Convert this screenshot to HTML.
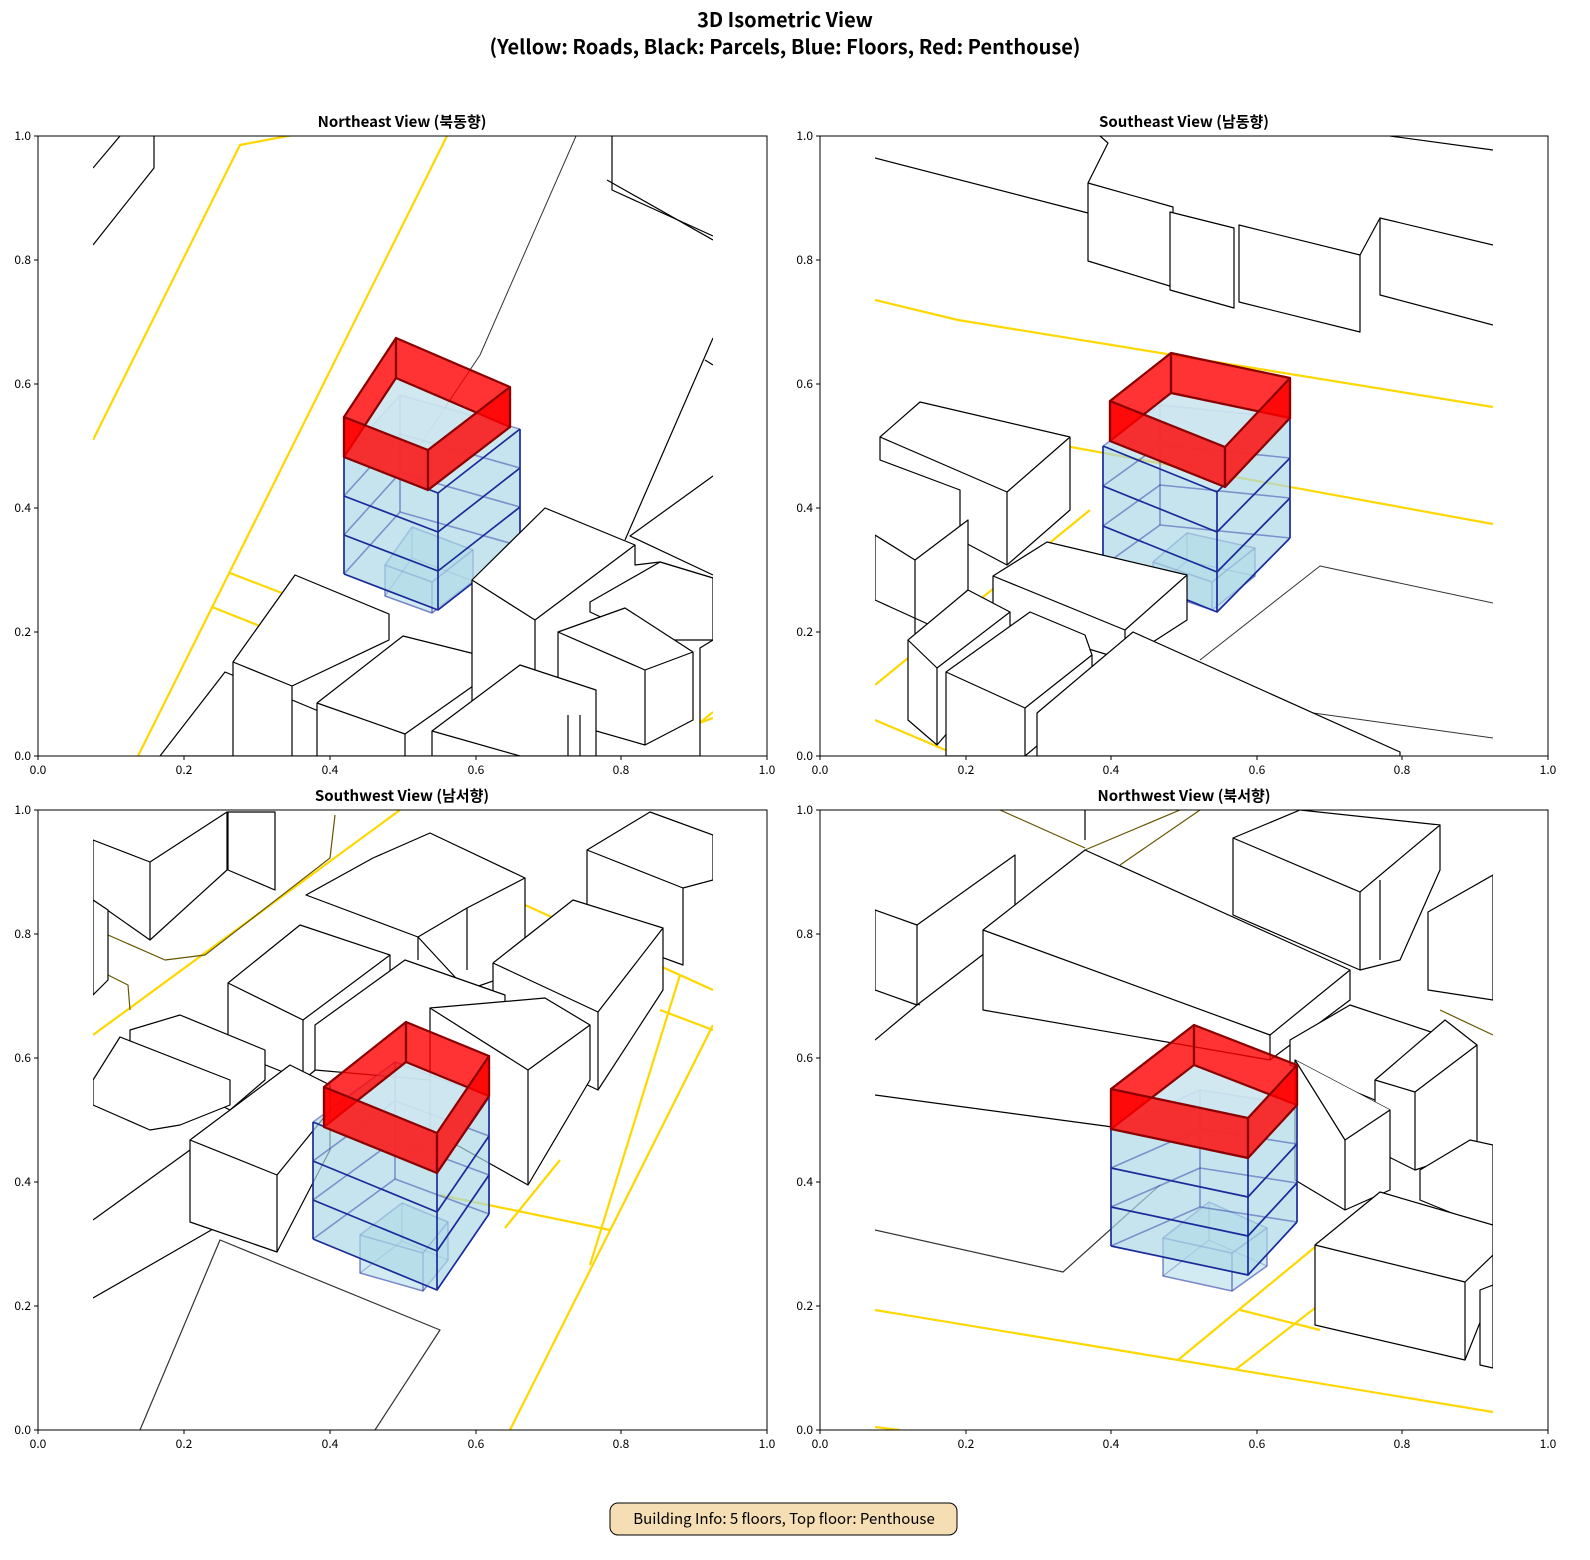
<!DOCTYPE html>
<html><head><meta charset="utf-8"><style>
html,body{margin:0;padding:0;background:#fff;overflow:hidden;width:1590px;height:1560px;}
svg{display:block;}
svg text{font-family:"Noto Sans CJK KR","Liberation Sans",sans-serif;}
</style></head><body>
<svg id="S" width="1590" height="1560" viewBox="0 0 1590 1560" xmlns="http://www.w3.org/2000/svg">
<defs>
<clipPath id="c1"><rect x="93" y="136" width="620" height="620"/></clipPath>
<clipPath id="c2"><rect x="875" y="136" width="618" height="620"/></clipPath>
<clipPath id="c3"><rect x="93" y="810" width="620" height="620"/></clipPath>
<clipPath id="c4"><rect x="875" y="810" width="618" height="620"/></clipPath>
</defs>
<text x="785" y="27" text-anchor="middle" font-size="20" font-weight="bold">3D Isometric View</text>
<text x="785" y="54" text-anchor="middle" font-size="20" font-weight="bold">(Yellow: Roads, Black: Parcels, Blue: Floors, Red: Penthouse)</text>

<text x="402" y="127" text-anchor="middle" font-size="15" font-weight="bold">Northeast View (북동향)</text>
<text x="1184" y="127" text-anchor="middle" font-size="15" font-weight="bold">Southeast View (남동향)</text>
<text x="402" y="801" text-anchor="middle" font-size="15" font-weight="bold">Southwest View (남서향)</text>
<text x="1184" y="801" text-anchor="middle" font-size="15" font-weight="bold">Northwest View (북서향)</text>

<!-- ===== Panel 1 ===== -->
<g clip-path="url(#c1)" fill="none" stroke-linejoin="round">
 <g stroke="#FFD700" stroke-width="2.2">
  <polyline points="93,440 240,145 330,128"/>
  <line x1="138" y1="756" x2="447" y2="136"/>
  <polyline points="230,573 300,600"/>
  <polyline points="212,607 270,630"/>
  <polyline points="640,745 713,718"/>
  <polyline points="660,756 713,712"/>
 </g>
 <g stroke="#000" stroke-width="1.2">
  <line x1="93" y1="168" x2="120" y2="136"/>
  <polyline points="93,245 154,168 154,136"/>
  <polyline points="612,136 612,190 713,236"/>
  <polyline points="607,180 713,240"/>
  <polyline points="713,338 625,540"/>
  <polyline points="713,365 705,360"/>
  <polyline points="713,476 630,536 713,575"/>
 </g>
 <polyline points="576,136 480,355 420,445" stroke="#333" stroke-width="1"/>
 <g id="b1"></g>
 <g stroke="#000" stroke-width="1.2" fill="#fff">
  <polygon points="160,756 225,672 328,715 328,756"/>
  <polygon points="233,662 295,575 389,614 389,640 292,686 292,756 233,756"/>
  <line x1="233" y1="662" x2="292" y2="686"/>
  <polygon points="317,703 403,636 507,662 507,756 317,756"/>
  <polyline points="317,703 405,734 507,662"/><line x1="405" y1="734" x2="405" y2="756"/>
  <polygon points="472,580 545,508 635,545 635,565 660,562 713,578 713,640 700,648 700,756 472,756"/>
  <polyline points="472,580 535,620 635,545"/><line x1="535" y1="620" x2="535" y2="756"/>
  <polygon points="590,602 660,562 713,578 713,640 650,640 590,612"/>
  <polygon points="558,632 625,608 693,652 693,720 645,745 558,720"/>
  <polyline points="558,632 645,670 693,652"/><line x1="645" y1="670" x2="645" y2="745"/>
  <polygon points="432,731 520,665 596,690 596,756 432,756"/>
  <polyline points="432,731 520,756"/><line x1="580" y1="715" x2="580" y2="756"/><line x1="568" y1="715" x2="568" y2="756"/>
 </g>
</g>

<!-- ===== Panel 2 ===== -->
<g clip-path="url(#c2)" fill="none" stroke-linejoin="round">
 <g stroke="#000" stroke-width="1.2">
  <line x1="875" y1="158" x2="1088" y2="213"/>
  <polyline points="1088,183 1108,143 1100,136"/>
  <line x1="1390" y1="136" x2="1493" y2="150"/>
  <polygon points="1088,183 1173,207 1173,287 1088,261" fill="#fff"/>
  <polygon points="1170,212 1234,228 1234,308 1170,290" fill="#fff"/>
  <polygon points="1239,225 1360,255 1360,332 1239,302" fill="#fff"/>
  <polyline points="1360,255 1380,218 1493,245"/>
  <polyline points="1380,218 1380,295 1493,325"/>
 </g>
 <g stroke="#FFD700" stroke-width="2.2">
  <polyline points="875,300 958,320 1493,407"/>
  <line x1="1060" y1="445" x2="1493" y2="524"/>
  <line x1="875" y1="720" x2="950" y2="752"/>
  <line x1="875" y1="685" x2="1090" y2="510"/>
 </g>
 <g stroke="#333" stroke-width="1">
  <polyline points="1200,660 1320,566 1493,603"/>
  <line x1="1220" y1="700" x2="1493" y2="738"/>
 </g>
 <g stroke="#000" stroke-width="1.2" fill="#fff">
  <polygon points="880,437 920,402 1070,437 1070,510 1007,565 960,540 960,490 880,460"/>
  <polyline points="880,437 1007,492 1070,437"/><line x1="1007" y1="492" x2="1007" y2="565"/>
  <polygon points="875,535 915,560 968,520 968,590 930,625 875,600"/>
  <polyline points="915,560 915,640"/>
 </g>
 <g id="b2"></g>
 <g stroke="#000" stroke-width="1.2" fill="#fff">
  <polygon points="993,576 1047,542 1187,575 1187,620 1125,660 993,620"/>
  <polyline points="993,576 1125,630 1187,575"/><line x1="1125" y1="630" x2="1125" y2="660"/>
  <polygon points="908,640 968,590 1010,612 1010,660 937,745 908,720"/>
  <polyline points="908,640 937,668 1010,612"/><line x1="937" y1="668" x2="937" y2="745"/>
  <polygon points="946,672 1030,612 1085,635 1092,655 1092,700 1025,756 946,756"/>
  <polyline points="946,672 1025,708 1092,655"/><line x1="1025" y1="708" x2="1025" y2="756"/>
  <polygon points="1037,713 1133,632 1400,752 1400,756 1037,756"/>
 </g>
</g>

<!-- ===== Panel 3 ===== -->
<g clip-path="url(#c3)" fill="none" stroke-linejoin="round">
 <g stroke="#FFD700" stroke-width="2.2">
  <line x1="93" y1="1035" x2="400" y2="810"/>
  <line x1="510" y1="1430" x2="713" y2="1025"/>
  <line x1="660" y1="1010" x2="713" y2="1030"/>
  <line x1="505" y1="1228" x2="560" y2="1160"/>
  <line x1="590" y1="1265" x2="680" y2="975"/>
  <line x1="440" y1="1195" x2="610" y2="1230"/>
  <line x1="525" y1="905" x2="713" y2="990"/>
 </g>
 <g stroke="#665500" stroke-width="1.2">
  <polyline points="108,935 165,960 205,955 330,858 335,815"/>
  <polyline points="108,975 128,985 130,1010"/>
 </g>
 <g stroke="#000" stroke-width="1.2">
  <polyline points="140,1430 220,1240 440,1330 375,1430" stroke="#333"/>
  <line x1="93" y1="1220" x2="190" y2="1150"/>
  <line x1="93" y1="1298" x2="220" y2="1225"/>
 </g>
 <g stroke="#000" stroke-width="1.2" fill="#fff">
  <polygon points="93,840 150,862 227,812 227,870 150,940 93,900"/>
  <line x1="150" y1="862" x2="150" y2="940"/>
  <polygon points="228,812 275,812 275,890 228,870"/>
  <polygon points="93,900 108,910 108,980 93,995"/>
  <polygon points="306,895 373,858 430,833 525,878 525,970 467,990 418,937 306,895"/>
  <polyline points="418,937 467,908 525,878"/><line x1="467" y1="908" x2="467" y2="970"/><line x1="418" y1="937" x2="418" y2="960"/>
  <polygon points="587,850 650,812 713,835 713,880 683,888 683,965 587,930"/>
  <line x1="683" y1="888" x2="587" y2="850"/>
  <polygon points="228,983 300,925 390,955 390,1010 303,1080 228,1050"/>
  <polyline points="228,983 303,1020 390,955"/><line x1="303" y1="1020" x2="303" y2="1080"/>
  <polygon points="493,963 573,900 663,928 663,990 598,1090 493,1040"/>
  <polyline points="493,963 598,1012 663,928"/><line x1="598" y1="1012" x2="598" y2="1090"/>
  <polygon points="315,1025 405,960 505,995 505,1040 430,1080 315,1070"/>
  <polygon points="130,1030 180,1015 265,1050 265,1080 230,1110 130,1060"/>
  <polygon points="93,1080 120,1037 230,1080 230,1105 180,1125 150,1130 93,1105"/>
  <polygon points="430,1008 545,998 590,1025 590,1080 528,1185 430,1130"/>
  <polyline points="430,1008 528,1070 590,1025"/><line x1="528" y1="1070" x2="528" y2="1185"/>
  <polygon points="190,1140 290,1065 330,1085 330,1150 277,1252 190,1222"/>
  <polyline points="190,1140 277,1175 330,1110"/><line x1="277" y1="1175" x2="277" y2="1252"/>
 </g>
 <g id="b3"></g>
</g>

<!-- ===== Panel 4 ===== -->
<g clip-path="url(#c4)" fill="none" stroke-linejoin="round">
 <g stroke="#FFD700" stroke-width="2.2">
  <line x1="875" y1="1310" x2="1493" y2="1412"/>
  <line x1="1178" y1="1360" x2="1360" y2="1210"/>
  <line x1="1235" y1="1370" x2="1390" y2="1250"/>
  <line x1="1240" y1="1310" x2="1320" y2="1330"/>
  <line x1="875" y1="1427" x2="900" y2="1430"/>
 </g>
 <g stroke="#665500" stroke-width="1.2">
  <polyline points="1000,810 1085,848"/>
  <polyline points="1085,850 1180,810"/>
  <polyline points="1120,865 1200,810"/>
  <polyline points="1440,1010 1493,1035"/>
 </g>
 <g stroke="#000" stroke-width="1.2">
  <line x1="875" y1="1095" x2="1120" y2="1128"/>
  <polyline points="875,1230 1063,1272 1160,1185" stroke="#333"/>
  <line x1="875" y1="988" x2="920" y2="1005"/>
  <line x1="875" y1="1040" x2="983" y2="950"/>
  <line x1="1085" y1="810" x2="1085" y2="840"/>
 </g>
 <g stroke="#000" stroke-width="1.2" fill="#fff">
  <polygon points="875,910 917,925 1015,855 1015,930 917,1005 875,990"/>
  <line x1="917" y1="925" x2="917" y2="1005"/>
  <polygon points="1233,838 1300,810 1440,825 1440,870 1400,960 1360,970 1233,915"/>
  <polyline points="1233,838 1360,892 1440,825"/><line x1="1360" y1="892" x2="1360" y2="970"/><line x1="1380" y1="880" x2="1380" y2="960"/>
  <polygon points="983,930 1085,850 1350,970 1350,1000 1270,1060 983,1010"/>
  <polyline points="983,930 1270,1035 1350,970"/><line x1="1270" y1="1035" x2="1270" y2="1060"/>
  <polygon points="1428,912 1493,875 1493,1000 1428,990"/>
  <polygon points="1290,1040 1350,1005 1440,1035 1440,1085 1375,1100 1290,1065"/>
  <polygon points="1375,1080 1445,1020 1477,1045 1477,1150 1415,1170 1375,1150"/>
  <polyline points="1375,1080 1415,1092 1477,1045"/><line x1="1415" y1="1092" x2="1415" y2="1170"/>
  <polygon points="1295,1060 1390,1110 1390,1190 1345,1210 1295,1180"/>
  <polyline points="1295,1060 1345,1140 1390,1110"/><line x1="1345" y1="1140" x2="1345" y2="1210"/>
  <polygon points="1420,1170 1470,1140 1493,1145 1493,1230 1420,1200"/>
  <polygon points="1315,1245 1380,1192 1493,1225 1493,1290 1465,1360 1315,1325"/>
  <polyline points="1315,1245 1465,1282 1493,1255"/><line x1="1465" y1="1282" x2="1465" y2="1360"/>
  <polygon points="1480,1290 1493,1285 1493,1368 1480,1365"/>
 </g>
 <g id="b4"></g>
</g>

<g stroke="#000" stroke-width="1" fill="none">
  <rect x="38" y="136" width="729" height="620"/>
  <rect x="820" y="136" width="728" height="620"/>
  <rect x="38" y="810" width="729" height="620"/>
  <rect x="820" y="810" width="728" height="620"/>
</g>
<g font-size="12" stroke="none">
 <g text-anchor="middle">
  <text x="38" y="774">0.0</text><text x="184" y="774">0.2</text><text x="330" y="774">0.4</text><text x="476" y="774">0.6</text><text x="621" y="774">0.8</text><text x="767" y="774">1.0</text>
  <text x="820" y="774">0.0</text><text x="966" y="774">0.2</text><text x="1111" y="774">0.4</text><text x="1257" y="774">0.6</text><text x="1402" y="774">0.8</text><text x="1548" y="774">1.0</text>
  <text x="38" y="1448">0.0</text><text x="184" y="1448">0.2</text><text x="330" y="1448">0.4</text><text x="476" y="1448">0.6</text><text x="621" y="1448">0.8</text><text x="767" y="1448">1.0</text>
  <text x="820" y="1448">0.0</text><text x="966" y="1448">0.2</text><text x="1111" y="1448">0.4</text><text x="1257" y="1448">0.6</text><text x="1402" y="1448">0.8</text><text x="1548" y="1448">1.0</text>
 </g>
 <g text-anchor="end">
  <text x="31" y="140">1.0</text><text x="31" y="264">0.8</text><text x="31" y="388">0.6</text><text x="31" y="512">0.4</text><text x="31" y="636">0.2</text><text x="31" y="760">0.0</text>
  <text x="813" y="140">1.0</text><text x="813" y="264">0.8</text><text x="813" y="388">0.6</text><text x="813" y="512">0.4</text><text x="813" y="636">0.2</text><text x="813" y="760">0.0</text>
  <text x="31" y="814">1.0</text><text x="31" y="938">0.8</text><text x="31" y="1062">0.6</text><text x="31" y="1186">0.4</text><text x="31" y="1310">0.2</text><text x="31" y="1434">0.0</text>
  <text x="813" y="814">1.0</text><text x="813" y="938">0.8</text><text x="813" y="1062">0.6</text><text x="813" y="1186">0.4</text><text x="813" y="1310">0.2</text><text x="813" y="1434">0.0</text>
 </g>
 <g stroke="#000" stroke-width="1">
  <path d="M38,756v4M184,756v4M330,756v4M476,756v4M621,756v4M767,756v4M820,756v4M966,756v4M1111,756v4M1257,756v4M1402,756v4M1548,756v4M38,1430v4M184,1430v4M330,1430v4M476,1430v4M621,1430v4M767,1430v4M820,1430v4M966,1430v4M1111,1430v4M1257,1430v4M1402,1430v4M1548,1430v4"/>
  <path d="M38,136h-4M38,260h-4M38,384h-4M38,508h-4M38,632h-4M38,756h-4M820,136h-4M820,260h-4M820,384h-4M820,508h-4M820,632h-4M820,756h-4M38,810h-4M38,934h-4M38,1058h-4M38,1182h-4M38,1306h-4M38,1430h-4M820,810h-4M820,934h-4M820,1058h-4M820,1182h-4M820,1306h-4M820,1430h-4"/>
 </g>
</g>

<rect x="610" y="1503" width="347" height="32" rx="8" fill="#f5deb3" stroke="#000" stroke-width="1"/>
<text x="784" y="1524" text-anchor="middle" font-size="15">Building Info: 5 floors, Top floor: Penthouse</text>
</svg>
<script>
var NS="http://www.w3.org/2000/svg";
function el(g,tag,attrs){var e=document.createElementNS(NS,tag);for(var k in attrs)e.setAttribute(k,attrs[k]);g.appendChild(e);return e;}
function pts(a){return a.map(function(p){return p[0]+","+p[1];}).join(" ");}
function dn(p,d){return [p[0],p[1]+d];}
function blue(g,L,B,R,F,h,n){
  var H=h*n, Lb=dn(L,H),Bb=dn(B,H),Rb=dn(R,H),Fb=dn(F,H);
  // hull
  el(g,"polygon",{points:pts([L,B,R,Rb,Fb,Lb]),fill:"rgba(173,216,230,0.6)",stroke:"none"});
  el(g,"polygon",{points:pts([L,F,Fb,Lb]),fill:"rgba(173,216,230,0.25)",stroke:"none"});
  el(g,"polygon",{points:pts([F,R,Rb,Fb]),fill:"rgba(173,216,230,0.25)",stroke:"none"});
  // hidden edges
  for(var k=0;k<=n;k++){var d=h*k;
    el(g,"polyline",{points:pts([dn(L,d),dn(B,d),dn(R,d)]),fill:"none",stroke:"rgba(30,45,160,0.45)","stroke-width":1.6});
  }
  el(g,"line",{x1:B[0],y1:B[1],x2:Bb[0],y2:Bb[1],stroke:"rgba(30,45,160,0.45)","stroke-width":1.6});
  for(var k=0;k<=n;k++){var d=h*k;
    el(g,"polyline",{points:pts([dn(L,d),dn(F,d),dn(R,d)]),fill:"none",stroke:"#1a2a9a","stroke-width":1.7});
  }
  [L,F,R].forEach(function(p){el(g,"line",{x1:p[0],y1:p[1],x2:p[0],y2:p[1]+H,stroke:"#1a2a9a","stroke-width":1.7});});
}
function small(g,L,B,R,F,h){
  var Lb=dn(L,h),Rb=dn(R,h),Fb=dn(F,h),Bb=dn(B,h);
  el(g,"polygon",{points:pts([L,B,R,Rb,Fb,Lb]),fill:"rgba(173,216,230,0.55)",stroke:"rgba(30,45,160,0.55)","stroke-width":1.5});
  el(g,"polyline",{points:pts([L,F,R]),fill:"none",stroke:"rgba(30,45,160,0.55)","stroke-width":1.5});
  el(g,"line",{x1:F[0],y1:F[1],x2:Fb[0],y2:Fb[1],stroke:"rgba(30,45,160,0.55)","stroke-width":1.5});
  el(g,"polyline",{points:pts([Lb,Bb,Rb]),fill:"none",stroke:"rgba(30,45,160,0.3)","stroke-width":1.2});
  el(g,"line",{x1:B[0],y1:B[1],x2:Bb[0],y2:Bb[1],stroke:"rgba(30,45,160,0.3)","stroke-width":1.2});
}
function pent(g,L,B,R,F,d){
  var L2=dn(L,d),B2=dn(B,d),R2=dn(R,d),F2=dn(F,d);
  var red={fill:"rgba(255,0,0,0.8)",stroke:"#8b0000","stroke-width":2.2,"stroke-linejoin":"round"};
  function P(a){var o={points:pts(a)};for(var k in red)o[k]=red[k];el(g,"polygon",o);}
  el(g,"polygon",{points:pts([L2,B2,R2,F2]),fill:"rgba(205,230,240,0.9)",stroke:"#1a2a9a","stroke-width":1.6});
  P([L,B,B2,L2]);P([B,R,R2,B2]);
  P([L,F,F2,L2]);P([F,R,R2,F2]);
}
var g1=document.getElementById("b1");
small(g1,[385,565],[412,527],[473,550],[432,582],31);
blue(g1,[344,457],[400,395],[520,429],[438,493],39,3);
pent(g1,[344,417],[396,338],[510,387],[428,450],40);
var g2=document.getElementById("b2");
small(g2,[1153,562],[1187,533],[1255,548],[1212,582],28);
blue(g2,[1103,446],[1160,405],[1290,418],[1217,492],40,3);
pent(g2,[1110,401],[1171,353],[1290,378],[1225,447],40);
var g3=document.getElementById("b3");
small(g3,[360,1235],[402,1203],[448,1222],[423,1253],38);
blue(g3,[313,1122],[395,1062],[489,1097],[437,1173],39,3);
pent(g3,[324,1087],[406,1022],[489,1056],[437,1133],40);
var g4=document.getElementById("b4");
small(g4,[1163,1238],[1209,1202],[1267,1228],[1232,1253],38);
blue(g4,[1111,1129],[1200,1090],[1297,1105],[1248,1158],39,3);
pent(g4,[1111,1089],[1194,1025],[1297,1065],[1248,1118],40);
</script>
</body></html>
